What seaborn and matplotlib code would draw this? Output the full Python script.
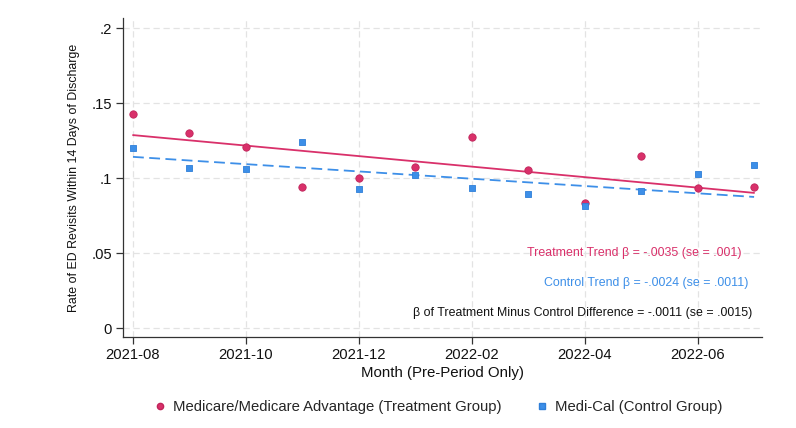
import numpy as np
import pandas as pd
import matplotlib
matplotlib.use("Agg")
import matplotlib.pyplot as plt
from matplotlib.lines import Line2D
import seaborn as sns

months = ["2021-08", "2021-09", "2021-10", "2021-11", "2021-12", "2022-01",
          "2022-02", "2022-03", "2022-04", "2022-05", "2022-06", "2022-07"]
treatment = [0.1429, 0.1298, 0.1209, 0.0940, 0.1002, 0.1076,
             0.1275, 0.1055, 0.0833, 0.1147, 0.0935, 0.0938]
control = [0.1202, 0.1069, 0.1058, 0.1240, 0.0927, 0.1022,
           0.0933, 0.0895, 0.0813, 0.0913, 0.1027, 0.1091]
# fitted trend values at first and last month
treat_fit = [0.1287, 0.0902]
control_fit = [0.1142, 0.0875]

ytick_vals = [0, 0.05, 0.10, 0.15, 0.20]
ytick_labels = ["0", ".05", ".1", ".15", ".2"]
xtick_labels = ["2021-08", "2021-10", "2021-12", "2022-02", "2022-04", "2022-06"]

treat_label = "Medicare/Medicare Advantage (Treatment Group)"
control_label = "Medi-Cal (Control Group)"
ann_treat = "Treatment Trend \u03b2 = -.0035 (se = .001)"
ann_control = "Control Trend \u03b2 = -.0024 (se = .0011)"
ann_diff = "\u03b2 of Treatment Minus Control Difference = -.0011 (se = .0015)"

RED = "#d9306a"
BLUE = "#3d8fe8"

sns.set_theme(style="white")
plt.rcParams["font.family"] = ["Liberation Sans", "DejaVu Sans"]

idx = np.arange(len(months))
df = pd.DataFrame({"x": idx, "treatment": treatment, "control": control})

fig = plt.figure(figsize=(7.96, 4.28), dpi=100)
ax = fig.add_axes([123/796, 1-337/428, (762-123)/796, (337-18)/428])

# grid
for m in xtick_labels:
    ax.axvline(months.index(m), color="#e3e3e3", lw=0.9, ls=(0, (5, 3)), zorder=0)
for v in ytick_vals:
    ax.axhline(v, color="#e3e3e3", lw=0.9, ls=(0, (5, 3)), zorder=0)

fit_x = [idx[0], idx[-1]]
sns.lineplot(x=fit_x, y=treat_fit, ax=ax, color=RED, lw=1.3, zorder=2)
sns.lineplot(x=fit_x, y=control_fit, ax=ax, color=BLUE, lw=1.3, zorder=2,
             dashes=False, linestyle=(0, (6, 3)))

sns.scatterplot(data=df, x="x", y="treatment", ax=ax, color=RED, marker="o",
                s=28, edgecolor="#c0245a", linewidth=0.6, zorder=3)
sns.scatterplot(data=df, x="x", y="control", ax=ax, color=BLUE, marker="s",
                s=25, edgecolor="#2f7fd8", linewidth=0.6, zorder=3)

ax.set_xlim(-0.177, 11.14)
ax.set_ylim(-0.0058, 0.2067)
ax.set_xticks([months.index(m) for m in xtick_labels])
ax.set_xticklabels(xtick_labels)
ax.set_yticks(ytick_vals)
ax.set_yticklabels(ytick_labels)
ax.tick_params(axis="both", direction="out", length=5, width=0.9, color="#333333",
               labelsize=10.6, labelcolor="#111111", pad=3, bottom=True, left=True)

for s in ["top", "right"]:
    ax.spines[s].set_visible(False)
for s in ["left", "bottom"]:
    ax.spines[s].set_color("#333333")
    ax.spines[s].set_linewidth(0.9)

ax.set_xlabel("Month (Pre-Period Only)", fontsize=10.8, color="#111111", labelpad=3)
ax.set_ylabel("Rate of ED Revisits Within 14 Days of Discharge", fontsize=8.9,
              color="#111111", labelpad=8)

ax.text(0.9687, 0.264, ann_treat, transform=ax.transAxes, ha="right", va="center",
        fontsize=8.95, color=RED)
ax.text(0.978, 0.168, ann_control, transform=ax.transAxes, ha="right", va="center",
        fontsize=8.95, color=BLUE)
ax.text(0.984, 0.0743, ann_diff, transform=ax.transAxes, ha="right", va="center",
        fontsize=8.95, color="#111111")

handles = [
    Line2D([], [], ls="none", marker="o", markersize=4.5, color=RED,
           markeredgecolor="#c0245a", label=treat_label),
    Line2D([], [], ls="none", marker="s", markersize=4.2, color=BLUE,
           markeredgecolor="#2f7fd8", label=control_label),
]
fig.legend(handles=handles, loc="center", bbox_to_anchor=(438/796, 1-407/428),
           ncol=2, frameon=False, fontsize=10.7, handlelength=0.8,
           handletextpad=0.5, columnspacing=2.3)

fig.savefig("out.png", dpi=100)
